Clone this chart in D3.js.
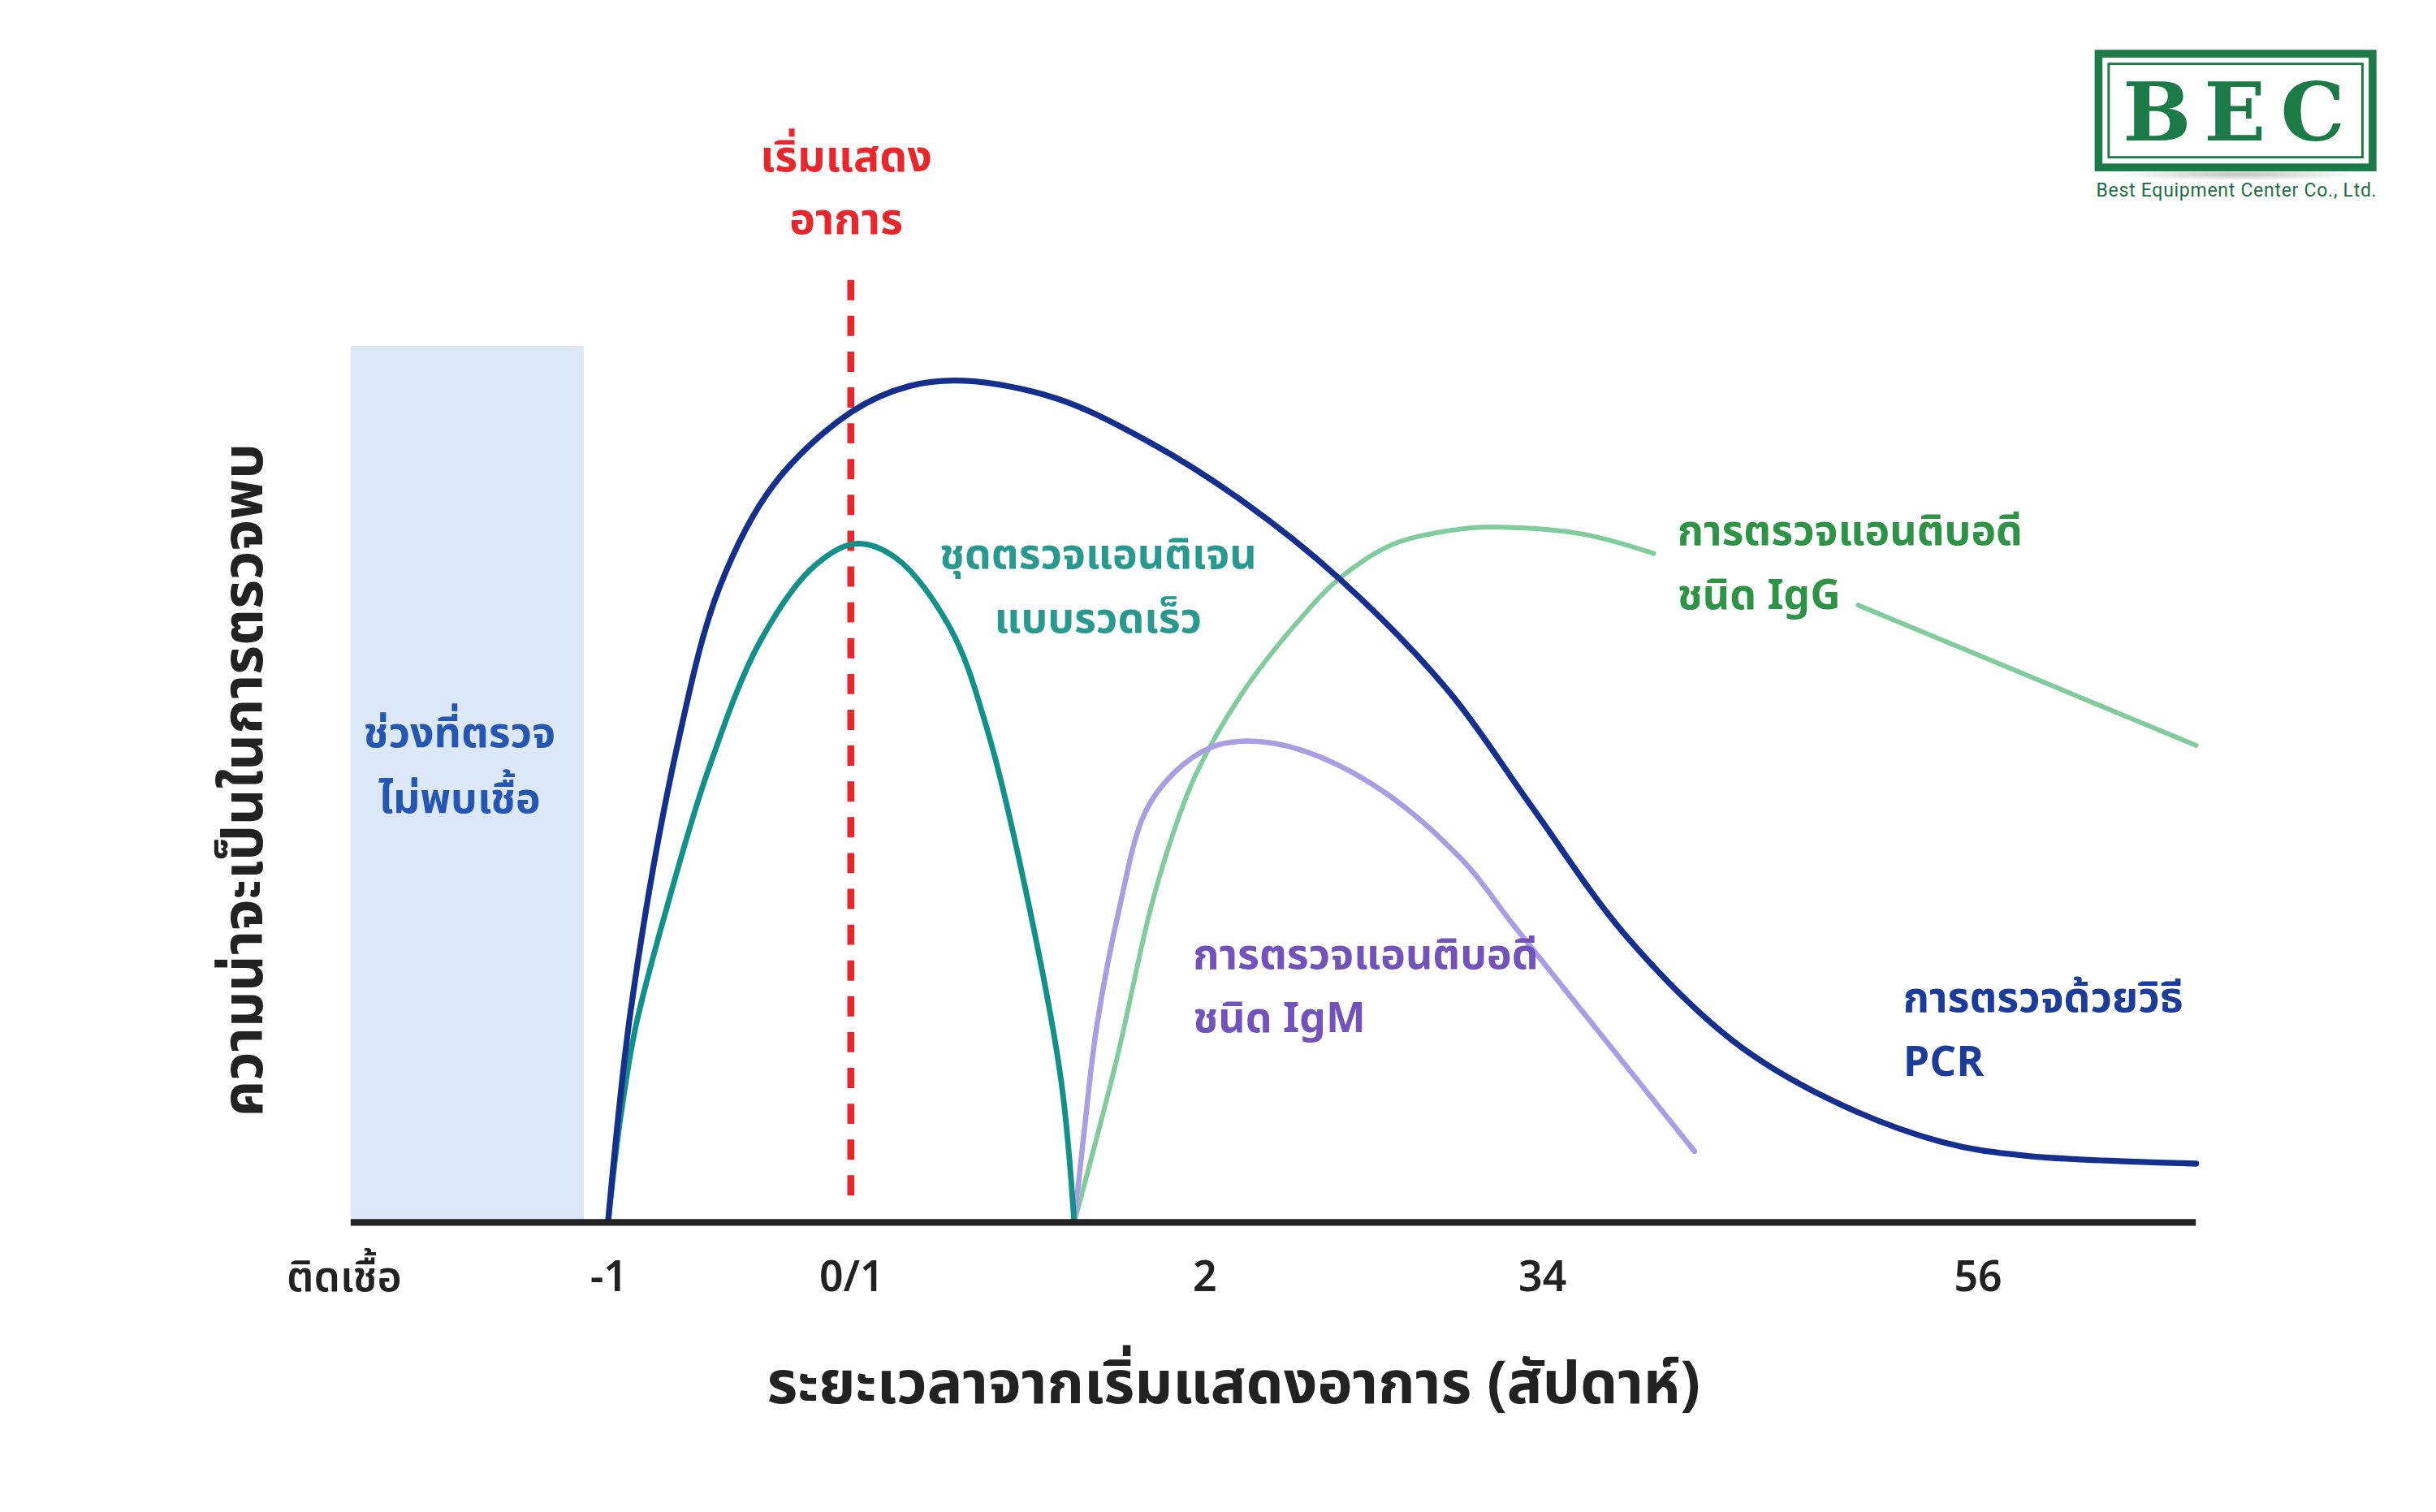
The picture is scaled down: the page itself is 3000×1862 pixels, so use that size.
<!DOCTYPE html>
<html>
<head>
  <meta charset="UTF-8">
  <title>COVID-19 test detection window</title>
  <script src="https://cdn.jsdelivr.net/npm/d3@7"></script>
  <style>
    html, body { margin: 0; padding: 0; background: #fff; }
    text { font-family: "Noto Sans Thai", "Noto Sans Thai UI", "Noto Sans", "DejaVu Sans", sans-serif; }
  </style>
</head>
<body>
<svg id="chart" width="3000" height="1862" viewBox="0 0 1564 971"></svg>

<script>
// time in weeks (0 = symptom onset), value = chance of detection (0-100)
var pcrT = [-1.00, -0.906, -0.716, -0.540, -0.316, 0, 0.242, 0.467, 0.845, 1.230, 1.622, 2.013,
            2.462, 2.795, 3.186, 3.629, 4.020, 4.489, 4.842, 5.541];
var pcrV = [0, 24.3, 54.2, 72.5, 84.2, 92.4, 95.4, 96.0, 94.0, 89.0, 82.1, 73.4,
            60.6, 47.8, 32.9, 20.8, 14.2, 9.2, 7.6, 6.7];

var antigenT = [-1.00, -0.951, -0.887, -0.758, -0.586, -0.373, -0.149, 0.018, 0.185, 0.409,
                0.563, 0.749, 0.868, 0.920];
var antigenV = [0, 11.5, 22.2, 35.9, 51.7, 66.3, 74.9, 77.4, 75.8, 67.8,
                56.1, 34.1, 15.8, 0];

var igmT = [0.920, 0.961, 1.012, 1.105, 1.211, 1.328, 1.484, 1.628, 1.852,
            2.180, 2.516, 2.738, 3.186, 3.475];
var igmV = [0, 10.3, 22.2, 35.7, 46.7, 51.2, 54.2, 54.9, 53.9,
            49.4, 41.4, 33.6, 18.1, 8.1];

// IgG has a gap where its label sits (null = break)
var iggT = [0.920, 1.096, 1.234, 1.334, 1.423, 1.613, 1.847, 2.015, 2.237, 2.516,
            2.683, 3.017, 3.307, null, 4.149, 5.541];
var iggV = [0, 18.7, 35.7, 44.9, 51.2, 60.4, 68.7, 73.5, 77.4, 79.1,
            79.3, 78.5, 76.3, null, 70.4, 54.4];

var tickValues = [-2.09, -1, 0, 1.455, 2.846, 4.64];
var tickLabels = ["ติดเชื้อ", "-1", "0/1", "2", "34", "56"];

var noDetectStart = -2.06, noDetectEnd = -1.10;
var onsetT = 0;

var svg = d3.select('#chart');

var x = d3.scaleLinear().domain([-2.06, 5.54]).range([225, 1410]);
var y = d3.scaleLinear().domain([0, 100]).range([785, 222]);

function zipSeries(ts, vs) {
  return ts.map(function(t, i) { return {t: t, v: vs[i]}; });
}

var line = d3.line()
  .defined(function(d) { return d.t !== null; })
  .x(function(d) { return x(d.t); })
  .y(function(d) { return y(d.v); })
  .curve(d3.curveCatmullRom.alpha(0.5));

function multiLine(sel, lines, x0, y0, gap) {
  sel.selectAll('tspan')
    .data(lines)
    .enter().append('tspan')
      .attr('x', x0)
      .attr('y', function(d, i) { return y0 + i * gap; })
      .text(function(d) { return d; });
}

// shaded "not detectable" window
svg.append('rect')
  .attr('x', x(noDetectStart))
  .attr('y', y(100))
  .attr('width', x(noDetectEnd) - x(noDetectStart))
  .attr('height', y(0) - y(100))
  .style('fill', '#dce8f8');

svg.append('text')
  .attr('text-anchor', 'middle')
  .style('font-size', '27px').style('font-weight', 700)
  .style('fill', '#2456b2')
  .call(multiLine, ["ช่วงที่ตรวจ", "ไม่พบเชื้อ"], (x(noDetectStart) + x(noDetectEnd)) / 2 - 5, 480, 42);

// onset marker
svg.append('line')
  .attr('x1', x(onsetT)).attr('x2', x(onsetT))
  .attr('y1', y(107.5)).attr('y2', y(2.3))
  .style('stroke', '#e8262b')
  .style('stroke-width', 4.5)
  .style('stroke-dasharray', '13,10');

svg.append('text')
  .attr('text-anchor', 'middle')
  .style('font-size', '28px').style('font-weight', 700)
  .style('fill', '#e8262b')
  .call(multiLine, ["เริ่มแสดง", "อาการ"], x(onsetT) - 3, 110, 40);

// curves
var series = [
  {t: iggT, v: iggV, color: '#80cc9c', w: 3.1},
  {t: igmT, v: igmV, color: '#ab9de2', w: 3.4},
  {t: antigenT, v: antigenV, color: '#12918b', w: 3.6},
  {t: pcrT, v: pcrV, color: '#142f8d', w: 3.8}
];

svg.selectAll('path.curve')
  .data(series)
  .enter().append('path')
    .attr('class', 'curve')
    .attr('d', function(s) { return line(zipSeries(s.t, s.v)); })
    .style('fill', 'none')
    .style('stroke', function(s) { return s.color; })
    .style('stroke-width', function(s) { return s.w; })
    .style('stroke-linecap', 'round')
    .style('stroke-linejoin', 'round');

// x axis
var axis = svg.append('g')
  .attr('transform', 'translate(0,' + y(0) + ')')
  .call(d3.axisBottom(x)
    .tickValues(tickValues)
    .tickFormat(function(d, i) { return tickLabels[i]; })
    .tickSize(0)
    .tickPadding(25));

axis.select('.domain')
  .attr('d', 'M' + x(-2.06) + ',0H' + x(5.54))
  .style('stroke', '#222')
  .style('stroke-width', 4.3);

axis.selectAll('.tick text')
  .style('font-size', '27px')
  .style('font-weight', 600)
  .style('fill', '#222');

// axis titles
svg.append('text')
  .attr('x', 792).attr('y', 901)
  .attr('text-anchor', 'middle')
  .style('font-size', '38px').style('font-weight', 700)
  .style('fill', '#222')
  .text("ระยะเวลาจากเริ่มแสดงอาการ (สัปดาห์)");

svg.append('text')
  .attr('transform', 'translate(168,501)rotate(-90)')
  .attr('text-anchor', 'middle')
  .style('font-size', '36px').style('font-weight', 700)
  .style('fill', '#222')
  .text("ความน่าจะเป็นในการตรวจพบ");

// curve labels
var labels = [
  {lines: ["ชุดตรวจแอนติเจน", "แบบรวดเร็ว"], x: 705, y: 365, anchor: 'middle', color: '#27998f'},
  {lines: ["การตรวจแอนติบอดี", "ชนิด IgG"], x: 1077, y: 350, anchor: 'start', color: '#2d9446'},
  {lines: ["การตรวจแอนติบอดี", "ชนิด IgM"], x: 766, y: 622, anchor: 'start', color: '#7253bc'},
  {lines: ["การตรวจด้วยวิธี", "PCR"], x: 1222, y: 650, anchor: 'start', color: '#1c3c9b'}
];

labels.forEach(function(l) {
  svg.append('text')
    .attr('text-anchor', l.anchor)
    .style('font-size', '27px').style('font-weight', 700)
    .style('fill', l.color)
    .call(multiLine, l.lines, l.x, l.y, 41);
});

// logo
var defs = svg.append('defs');
var grad = defs.append('radialGradient').attr('id', 'shadow');
grad.append('stop').attr('offset', '0%').attr('stop-color', '#999').attr('stop-opacity', 0.6);
grad.append('stop').attr('offset', '100%').attr('stop-color', '#999').attr('stop-opacity', 0);

var logo = svg.append('g').attr('transform', 'translate(1345,32)');
logo.append('ellipse')
  .attr('cx', 92).attr('cy', 80).attr('rx', 80).attr('ry', 4)
  .style('fill', 'url(#shadow)');
logo.append('rect')
  .attr('x', 2.5).attr('y', 2.5).attr('width', 176).attr('height', 73)
  .style('fill', '#fff').style('stroke', '#1b7a45').style('stroke-width', 5);
logo.append('rect')
  .attr('x', 9).attr('y', 9).attr('width', 163).attr('height', 60)
  .style('fill', 'none').style('stroke', '#1b7a45').style('stroke-width', 1.5);
logo.append('g').selectAll('text')
  .data(['B', 'E', 'C'])
  .enter().append('text')
    .attr('x', function(d, i) { return 40 + i * 50; })
    .attr('y', 58)
    .attr('text-anchor', 'middle')
    .style('font-family', '"DejaVu Serif", "Liberation Serif", serif')
    .style('font-size', '52px').style('font-weight', 700)
    .style('fill', '#1b7a45')
    .text(function(d) { return d; });
logo.append('text')
  .attr('x', 91).attr('y', 94)
  .attr('text-anchor', 'middle')
  .attr('textLength', 180)
  .style('font-family', '"Liberation Sans Narrow", "Roboto", sans-serif')
  .style('font-size', '12px')
  .style('fill', '#1b6e3f')
  .text('Best Equipment Center Co., Ltd.');
</script>
</body>
</html>
